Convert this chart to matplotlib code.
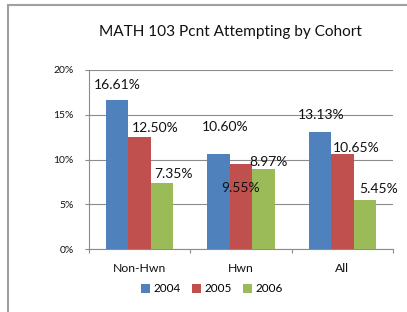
import matplotlib
matplotlib.use("Agg")
import matplotlib.pyplot as plt
import numpy as np
from matplotlib.patches import Rectangle

categories = ["Non-Hwn", "Hwn", "All"]
years = ["2004", "2005", "2006"]
pct_2004 = [16.61, 10.60, 13.13]
pct_2005 = [12.50, 9.55, 10.65]
pct_2006 = [7.35, 8.97, 5.45]
yticks = [0, 5, 10, 15, 20]

series = [pct_2004, pct_2005, pct_2006]
colors = ["#4F81BD", "#C0504D", "#9BBB59"]
# label offsets in points (dx, dy) relative to bar top center
label_offsets = [
    [(0, 11), (4.7, 19.5), (0.7, 12)],
    [(11, 7), (-0.4, -17.5), (9.7, 4.5)],
    [(8, 6.5), (3.6, 5), (10, 8)],
]

plt.rcParams['font.family'] = ['Lato', 'DejaVu Sans']
fig = plt.figure(figsize=(4.07, 3.12), dpi=100)
W, H = 407, 312
ax = fig.add_axes([89 / W, 1 - 249.3 / H, 304 / W, 179.3 / H])

x = np.arange(len(categories))
bw = 1 / 4.5
for i, (vals, col, yr) in enumerate(zip(series, colors, years)):
    pos = x + (i - 1) * bw
    ax.bar(pos, vals, width=bw, color=col, label=yr, zorder=3)
    for j, v in enumerate(vals):
        dx, dy = label_offsets[i][j]
        ax.annotate(f"{v:.2f}%", (pos[j], v), xytext=(dx, dy), textcoords="offset points",
                    ha="center", va="center", fontsize=10, color="#111111", zorder=4)

ax.set_xlim(-0.5, 2.5)
ax.set_ylim(0, 20)
ax.set_yticks(yticks)
ax.set_yticklabels([f"{t}%" for t in yticks], fontsize=7.5, color="#111111")
ax.yaxis.grid(True, color="#8c8c8c", linewidth=0.8, zorder=0)
ax.set_axisbelow(True)
ax.set_xticks([-0.5, 0.5, 1.5, 2.5])
ax.set_xticklabels([])
ax.set_xticks(x, minor=True)
ax.set_xticklabels(categories, minor=True, fontsize=8.8, color="#111111")
ax.tick_params(axis="x", which="major", length=3, color="#8c8c8c", width=0.8)
ax.tick_params(axis="x", which="minor", length=0, pad=10)
ax.tick_params(axis="y", length=3, color="#8c8c8c", width=0.8, pad=8)
for s in ["top", "right"]:
    ax.spines[s].set_visible(False)
for s in ["left", "bottom"]:
    ax.spines[s].set_color("#8c8c8c")
    ax.spines[s].set_linewidth(0.8)

fig.text(230.5 / W, 1 - 32 / H, "MATH 103 Pcnt Attempting by Cohort", ha="center", va="center",
         fontsize=11.1, color="#111111")

leg = fig.legend(loc="center", bbox_to_anchor=(212 / W, 1 - 289 / H), ncol=3, frameon=False,
                 fontsize=8.5, handlelength=0.7, handleheight=0.7, handletextpad=0.3,
                 columnspacing=1.0)

fig.patches.append(Rectangle((8 / W, -0.1), 1.2, 1.1 - 5 / H, transform=fig.transFigure,
                             fill=False, edgecolor="#a0a0a0", linewidth=1.5))

fig.savefig("out.png", dpi=100)
